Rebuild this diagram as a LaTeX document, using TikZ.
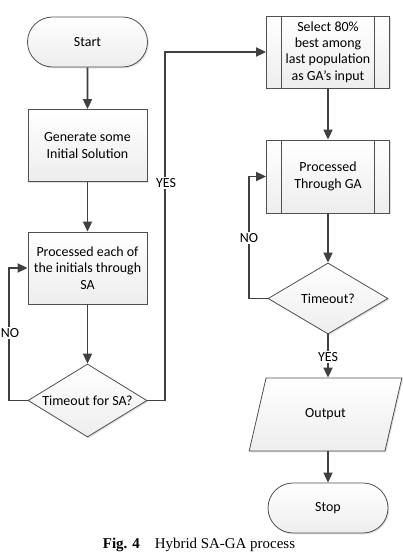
\documentclass[tikz,border=0pt]{standalone}
\usepackage{fontspec}
\setmainfont{Carlito}
\newfontfamily\capfont{Liberation Serif}
\usetikzlibrary{shapes.geometric,shapes.misc,arrows.meta,shadows}
\definecolor{edgec}{HTML}{404040}
\definecolor{bordc}{HTML}{505050}
\begin{document}
\begin{tikzpicture}[x=1bp,y=-1bp,
  base/.style={draw=bordc, line width=0.8bp, top color=white, bottom color=gray!14,
    drop shadow={shadow xshift=1.3bp, shadow yshift=-1.3bp, opacity=0.25},
    font=\fontsize{14}{16.5}\selectfont, align=center, inner sep=0pt, text=black},
  procbox/.style={base, rectangle, minimum width=119bp, minimum height=72bp},
  predef/.style={base, rectangle, minimum width=123bp, minimum height=72bp},
  term/.style={base, rounded rectangle, minimum width=120bp, minimum height=50bp},
  dec/.style={base, diamond, aspect=1.62, minimum width=119bp, minimum height=73bp},
  iobox/.style={base, trapezium, trapezium left angle=63, trapezium right angle=117,
    trapezium stretches=true, minimum width=153bp, minimum height=73bp},
  flow/.style={draw=edgec, line width=1.8bp, -{Triangle[length=10bp,width=9bp]}},
  lab/.style={fill=white, font=\fontsize{14}{16}\selectfont, inner sep=1bp, text=black}]
\useasboundingbox (0,0) rectangle (402,552);

% left column
\node[term] (start) at (87.5,42) {Start};
\node[procbox] (gen) at (87.5,145.5) {Generate some\\Initial Solution};
\node[procbox] (proc) at (87.5,268) {Processed each of\\the initials through\\SA};
\node[dec] (dec1) at (87.5,400.5) {Timeout for SA?};

% right column
\node[predef] (sel) at (328,52) {Select 80\%\\best among\\last population\\as GA’s input};
\draw[bordc, line width=0.8bp] ([xshift=15bp]sel.north west) -- ([xshift=15bp]sel.south west);
\draw[bordc, line width=0.8bp] ([xshift=-15.5bp]sel.north east) -- ([xshift=-15.5bp]sel.south east);
\node[predef, minimum height=73bp] (ga) at (328,176.5) {Processed\\Through GA};
\draw[bordc, line width=0.8bp] ([xshift=15bp]ga.north west) -- ([xshift=15bp]ga.south west);
\draw[bordc, line width=0.8bp] ([xshift=-15.5bp]ga.north east) -- ([xshift=-15.5bp]ga.south east);
\node[dec, minimum width=120bp, minimum height=71bp, aspect=1.69] (dec2) at (328,298.5) {Timeout?};
\node[iobox] (out) at (325.5,414.5) {Output};
\node[term] (stop) at (328,508) {Stop};

% connectors
\draw[flow] (start) -- (gen);
\draw[flow] (gen) -- (proc);
\draw[flow] (proc) -- (dec1);
\coordinate (nol) at (9,0);
\draw[flow] (dec1.west) -- (dec1.west -| nol) |- (proc.west);
\node[lab] (no1) at (10,333) {NO};
\coordinate (yesl) at (165,0);
\draw[flow] (dec1.east) -- (dec1.east -| yesl) |- (sel.west);
\node[lab] (yes1) at (166,183) {YES};

\draw[flow] (sel) -- (ga);
\draw[flow] (ga) -- (dec2);
\coordinate (nor) at (249,0);
\draw[flow] (dec2.west) -- (dec2.west -| nor) |- (ga.west);
\node[lab] (no2) at (249,238) {NO};
\draw[flow] (dec2.south) -- (dec2.south |- out.north);
\node[lab] (yes2) at (328,357) {YES};
\draw[flow] (stop.north |- out.south) -- (stop.north);

% caption
\node[anchor=base, inner sep=0pt, font=\capfont\fontsize{15}{18}\selectfont] (cap) at (199,548)
  {\textbf{Fig. 4}\quad Hybrid SA-GA process};
\end{tikzpicture}
\end{document}
